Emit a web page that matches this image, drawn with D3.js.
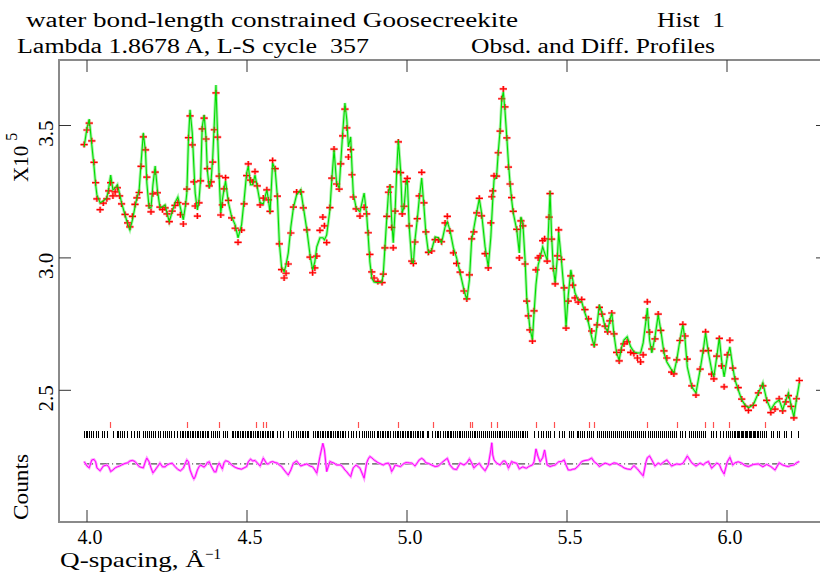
<!DOCTYPE html>
<html>
<head>
<meta charset="utf-8">
<script src="https://cdn.jsdelivr.net/npm/d3@7"></script>
<style>
  body { margin: 0; background: #fff; }
  svg { display: block; }
  text { font-family: "Liberation Serif", "DejaVu Serif", serif; fill: #000; white-space: pre; }
</style>
</head>
<body>
<svg id="chart"></svg>
<script>
// Q positions of the profile points (1/A)
const qPts = [
  3.991, 4.000, 4.007, 4.015, 4.022, 4.027, 4.031, 4.041, 4.051, 4.062,
  4.068, 4.074, 4.081, 4.088, 4.095, 4.102, 4.108, 4.119, 4.127, 4.134,
  4.142, 4.150, 4.156, 4.163, 4.169, 4.176, 4.183, 4.187, 4.194, 4.200,
  4.206, 4.213, 4.220, 4.228, 4.236, 4.244, 4.250, 4.257, 4.266, 4.275,
  4.284, 4.292, 4.301, 4.308, 4.312, 4.317, 4.322, 4.329, 4.334, 4.338,
  4.345, 4.350, 4.355, 4.360, 4.366, 4.372, 4.376, 4.382, 4.388, 4.393,
  4.398, 4.403, 4.408, 4.413, 4.418, 4.423, 4.428, 4.433, 4.442, 4.452,
  4.463, 4.472, 4.483, 4.491, 4.499, 4.504, 4.511, 4.518, 4.525, 4.532,
  4.541, 4.551, 4.562, 4.567, 4.572, 4.580, 4.588, 4.595, 4.601, 4.608,
  4.616, 4.622, 4.629, 4.637, 4.645, 4.655, 4.668, 4.676, 4.687, 4.697,
  4.705, 4.712, 4.718, 4.728, 4.737, 4.742, 4.749, 4.759, 4.765, 4.772,
  4.780, 4.788, 4.793, 4.799, 4.806, 4.812, 4.817, 4.824, 4.828, 4.832,
  4.841, 4.853, 4.866, 4.874, 4.879, 4.884, 4.890, 4.897, 4.909, 4.922,
  4.926, 4.931, 4.937, 4.942, 4.947, 4.952, 4.957, 4.963, 4.968, 4.973,
  4.980, 4.985, 4.991, 4.997, 5.001, 5.007, 5.015, 5.020, 5.025, 5.032,
  5.038, 5.046, 5.053, 5.059, 5.067, 5.077, 5.088, 5.098, 5.108, 5.119,
  5.126, 5.134, 5.145, 5.155, 5.166, 5.178, 5.187, 5.195, 5.202, 5.209,
  5.218, 5.226, 5.233, 5.244, 5.254, 5.262, 5.265, 5.268, 5.272, 5.280,
  5.285, 5.291, 5.296, 5.301, 5.306, 5.312, 5.317, 5.322, 5.327, 5.332,
  5.343, 5.351, 5.356, 5.362, 5.369, 5.374, 5.379, 5.384, 5.392, 5.397,
  5.403, 5.410, 5.416, 5.424, 5.430, 5.438, 5.444, 5.447, 5.452, 5.457,
  5.463, 5.470, 5.474, 5.483, 5.491, 5.497, 5.504, 5.512, 5.518, 5.525,
  5.535, 5.546, 5.556, 5.567, 5.577, 5.585, 5.594, 5.601, 5.609, 5.619,
  5.627, 5.634, 5.640, 5.647, 5.655, 5.663, 5.670, 5.678, 5.688, 5.699,
  5.709, 5.720, 5.730, 5.738, 5.747, 5.751, 5.758, 5.765, 5.775, 5.785,
  5.793, 5.803, 5.812, 5.827, 5.834, 5.843, 5.853, 5.862, 5.869, 5.876,
  5.890, 5.903, 5.916, 5.926, 5.933, 5.942, 5.952, 5.959, 5.968, 5.976,
  5.983, 5.991, 6.001, 6.009, 6.018, 6.025, 6.035, 6.046, 6.056, 6.067,
  6.082, 6.098, 6.112, 6.124, 6.137, 6.150, 6.163, 6.174, 6.184, 6.192,
  6.200, 6.209, 6.217, 6.226
];

// calculated profile, counts x 10^5
const calcPts = [
  3.419, 3.491, 3.524, 3.427, 3.344, 3.276, 3.238, 3.208, 3.215, 3.227,
  3.264, 3.313, 3.257, 3.264, 3.276, 3.242, 3.208, 3.162, 3.128, 3.106,
  3.144, 3.193, 3.227, 3.257, 3.359, 3.472, 3.397, 3.283, 3.189, 3.189,
  3.276, 3.347, 3.257, 3.189, 3.193, 3.200, 3.170, 3.137, 3.174, 3.208,
  3.230, 3.189, 3.144, 3.200, 3.245, 3.446, 3.559, 3.472, 3.344, 3.245,
  3.181, 3.219, 3.295, 3.495, 3.540, 3.453, 3.332, 3.264, 3.295, 3.381,
  3.514, 3.653, 3.464, 3.306, 3.170, 3.219, 3.257, 3.291, 3.208, 3.155,
  3.125, 3.076, 3.125, 3.219, 3.321, 3.347, 3.276, 3.276, 3.313, 3.268,
  3.208, 3.204, 3.257, 3.219, 3.170, 3.359, 3.332, 3.230, 3.057, 2.966,
  2.947, 2.974, 3.019, 3.117, 3.189, 3.238, 3.257, 3.193, 3.106, 3.011,
  2.955, 2.985, 3.042, 3.076, 3.076, 3.068, 3.087, 3.181, 3.295, 3.408,
  3.283, 3.264, 3.359, 3.472, 3.585, 3.521, 3.419, 3.457, 3.344, 3.245,
  3.189, 3.174, 3.245, 3.162, 3.076, 2.985, 2.924, 2.909, 2.906, 2.909,
  2.943, 3.038, 3.155, 3.245, 3.276, 3.144, 3.057, 3.181, 3.332, 3.446,
  3.332, 3.170, 3.193, 3.283, 3.295, 3.117, 2.985, 2.981, 3.068, 3.144,
  3.219, 3.302, 3.193, 3.094, 3.019, 3.030, 3.079, 3.076, 3.057, 3.117,
  3.136, 3.106, 3.038, 3.000, 2.943, 2.879, 2.841, 2.917, 3.068, 3.113,
  3.174, 3.223, 3.170, 3.042, 2.966, 3.079, 3.151, 3.219, 3.295, 3.306,
  3.397, 3.483, 3.597, 3.627, 3.559, 3.453, 3.359, 3.283, 3.219, 3.170,
  3.106, 3.019, 3.155, 3.132, 2.992, 2.853, 2.792, 2.736, 2.690, 2.792,
  2.898, 2.974, 3.000, 3.042, 3.019, 2.992, 3.162, 3.253, 3.079, 2.966,
  2.906, 3.004, 3.098, 2.985, 2.872, 2.739, 2.860, 2.955, 2.917, 2.868,
  2.841, 2.834, 2.792, 2.755, 2.702, 2.664, 2.747, 2.823, 2.792, 2.739,
  2.721, 2.766, 2.792, 2.709, 2.641, 2.615, 2.660, 2.690, 2.702, 2.664,
  2.645, 2.641, 2.641, 2.679, 2.766, 2.811, 2.690, 2.641, 2.702, 2.785,
  2.728, 2.641, 2.607, 2.577, 2.566, 2.615, 2.690, 2.747, 2.690, 2.588,
  2.513, 2.490, 2.577, 2.653, 2.717, 2.641, 2.577, 2.551, 2.626, 2.698,
  2.615, 2.551, 2.626, 2.664, 2.588, 2.539, 2.502, 2.464, 2.445, 2.434,
  2.445, 2.490, 2.528, 2.464, 2.426, 2.452, 2.464, 2.426, 2.464, 2.490,
  2.445, 2.400, 2.464, 2.528
];

// observed profile, counts x 10^5
const obsPts = [
  3.428, 3.483, 3.509, 3.442, 3.361, 3.284, 3.223, 3.182, 3.207, 3.223,
  3.253, 3.284, 3.234, 3.249, 3.265, 3.234, 3.204, 3.164, 3.132, 3.117,
  3.157, 3.202, 3.227, 3.247, 3.346, 3.457, 3.408, 3.305, 3.197, 3.174,
  3.242, 3.324, 3.246, 3.192, 3.182, 3.189, 3.166, 3.137, 3.177, 3.198,
  3.209, 3.163, 3.128, 3.204, 3.260, 3.454, 3.536, 3.427, 3.287, 3.196,
  3.158, 3.208, 3.291, 3.487, 3.528, 3.449, 3.337, 3.272, 3.287, 3.362,
  3.484, 3.623, 3.456, 3.309, 3.162, 3.200, 3.261, 3.303, 3.217, 3.151,
  3.112, 3.059, 3.105, 3.204, 3.311, 3.355, 3.294, 3.287, 3.326, 3.272,
  3.200, 3.226, 3.257, 3.219, 3.176, 3.368, 3.337, 3.233, 3.053, 2.956,
  2.924, 2.942, 2.977, 3.094, 3.192, 3.249, 3.249, 3.189, 3.106, 3.003,
  2.944, 2.962, 3.007, 3.104, 3.154, 3.121, 3.058, 3.190, 3.301, 3.411,
  3.279, 3.260, 3.355, 3.461, 3.562, 3.491, 3.381, 3.409, 3.314, 3.230,
  3.185, 3.158, 3.191, 3.166, 3.095, 3.013, 2.947, 2.924, 2.911, 2.907,
  2.939, 3.038, 3.157, 3.248, 3.268, 3.115, 3.038, 3.177, 3.326, 3.438,
  3.322, 3.166, 3.195, 3.288, 3.300, 3.121, 2.988, 2.979, 3.060, 3.148,
  3.234, 3.323, 3.208, 3.098, 3.021, 3.026, 3.069, 3.068, 3.061, 3.132,
  3.157, 3.102, 3.019, 2.979, 2.946, 2.875, 2.845, 2.936, 3.072, 3.098,
  3.170, 3.225, 3.159, 3.016, 2.962, 3.132, 3.231, 3.253, 3.310, 3.309,
  3.397, 3.479, 3.601, 3.638, 3.570, 3.453, 3.343, 3.279, 3.228, 3.176,
  3.108, 3.000, 3.140, 3.121, 2.977, 2.837, 2.781, 2.728, 2.686, 2.800,
  2.955, 3.000, 3.008, 3.065, 3.072, 2.988, 3.154, 3.243, 3.071, 2.960,
  2.902, 3.008, 3.106, 2.994, 2.887, 2.735, 2.837, 2.932, 2.897, 2.849,
  2.833, 2.843, 2.805, 2.770, 2.724, 2.672, 2.747, 2.813, 2.788, 2.742,
  2.721, 2.762, 2.792, 2.713, 2.643, 2.611, 2.652, 2.675, 2.683, 2.643,
  2.639, 2.622, 2.607, 2.634, 2.774, 2.834, 2.720, 2.656, 2.694, 2.788,
  2.726, 2.649, 2.622, 2.569, 2.562, 2.615, 2.688, 2.749, 2.705, 2.618,
  2.517, 2.482, 2.580, 2.649, 2.721, 2.650, 2.561, 2.543, 2.629, 2.696,
  2.592, 2.513, 2.634, 2.689, 2.584, 2.543, 2.510, 2.467, 2.439, 2.424,
  2.443, 2.490, 2.517, 2.462, 2.416, 2.429, 2.468, 2.422, 2.456, 2.480,
  2.439, 2.396, 2.468, 2.537
];

// reflection positions, second phase (red) and main phase (black)
const reflRed = [
  4.072, 4.313, 4.413, 4.527, 4.549, 4.559, 4.848, 4.971, 5.080, 5.197,
  5.204, 5.263, 5.281, 5.402, 5.458, 5.568, 5.583, 5.750, 5.845, 5.932,
  5.955, 6.005, 6.119
];
const reflBlack = [
  3.991, 3.996, 4.001, 4.006, 4.012, 4.020, 4.027, 4.035, 4.046, 4.053,
  4.061, 4.082, 4.093, 4.098, 4.103, 4.110, 4.117, 4.124, 4.139, 4.147,
  4.155, 4.163, 4.176, 4.181, 4.186, 4.194, 4.200, 4.207, 4.214, 4.221,
  4.228, 4.236, 4.244, 4.251, 4.257, 4.264, 4.272, 4.282, 4.291, 4.296,
  4.301, 4.306, 4.311, 4.317, 4.322, 4.327, 4.332, 4.337, 4.343, 4.348,
  4.353, 4.358, 4.363, 4.369, 4.374, 4.379, 4.386, 4.395, 4.400, 4.407,
  4.413, 4.426, 4.431, 4.436, 4.452, 4.457, 4.462, 4.468, 4.473, 4.478,
  4.483, 4.488, 4.494, 4.499, 4.504, 4.509, 4.514, 4.520, 4.525, 4.530,
  4.535, 4.541, 4.546, 4.551, 4.556, 4.561, 4.567, 4.572, 4.577, 4.582,
  4.593, 4.603, 4.613, 4.629, 4.636, 4.645, 4.653, 4.660, 4.666, 4.671,
  4.676, 4.681, 4.686, 4.692, 4.707, 4.712, 4.718, 4.723, 4.728, 4.733,
  4.738, 4.744, 4.749, 4.754, 4.759, 4.764, 4.770, 4.775, 4.780, 4.785,
  4.790, 4.796, 4.801, 4.806, 4.817, 4.824, 4.832, 4.841, 4.851, 4.858,
  4.866, 4.872, 4.879, 4.884, 4.892, 4.898, 4.905, 4.910, 4.916, 4.921,
  4.926, 4.931, 4.936, 4.942, 4.947, 4.957, 4.962, 4.968, 4.973, 4.978,
  4.983, 4.988, 4.994, 4.999, 5.004, 5.009, 5.014, 5.020, 5.025, 5.030,
  5.035, 5.041, 5.046, 5.051, 5.061, 5.067, 5.077, 5.087, 5.093, 5.098,
  5.103, 5.113, 5.119, 5.124, 5.129, 5.134, 5.139, 5.145, 5.150, 5.156,
  5.161, 5.166, 5.172, 5.178, 5.184, 5.190, 5.196, 5.202, 5.208, 5.214,
  5.220, 5.226, 5.232, 5.238, 5.244, 5.250, 5.256, 5.262, 5.268, 5.274,
  5.280, 5.286, 5.292, 5.298, 5.304, 5.310, 5.316, 5.322, 5.328, 5.334,
  5.340, 5.346, 5.352, 5.358, 5.364, 5.370, 5.376, 5.397, 5.410, 5.418,
  5.426, 5.434, 5.442, 5.447, 5.459, 5.475, 5.483, 5.491, 5.506, 5.511,
  5.518, 5.530, 5.535, 5.541, 5.548, 5.554, 5.561, 5.569, 5.575, 5.582,
  5.593, 5.599, 5.605, 5.611, 5.618, 5.624, 5.630, 5.636, 5.643, 5.649,
  5.655, 5.661, 5.668, 5.674, 5.680, 5.686, 5.693, 5.699, 5.705, 5.711,
  5.718, 5.724, 5.730, 5.736, 5.743, 5.754, 5.759, 5.766, 5.772, 5.778,
  5.784, 5.791, 5.797, 5.803, 5.809, 5.816, 5.822, 5.828, 5.834, 5.841,
  5.853, 5.859, 5.868, 5.882, 5.888, 5.895, 5.901, 5.907, 5.913, 5.920,
  5.926, 5.932, 5.949, 5.957, 5.966, 5.978, 5.986, 5.997, 6.003, 6.009,
  6.016, 6.022, 6.026, 6.030, 6.034, 6.038, 6.043, 6.047, 6.051, 6.055,
  6.059, 6.063, 6.068, 6.072, 6.076, 6.080, 6.084, 6.088, 6.093, 6.097,
  6.103, 6.109, 6.116, 6.122, 6.136, 6.143, 6.157, 6.163, 6.178, 6.184,
  6.199, 6.223
];

const xTicks = [4.0, 4.5, 5.0, 5.5, 6.0];
const yTicks = [2.5, 3.0, 3.5];
const diffBase = 2.222; // level where obs - calc = 0 is drawn

const width = 820, height = 573;
const frame = { left: 59, top: 60, right: 828, bottom: 522 };

const svg = d3.select("#chart")
    .attr("width", width)
    .attr("height", height);

svg.append("rect").attr("width", width).attr("height", height).attr("fill", "#fff");

const x = d3.scaleLinear().domain([4, 6]).range([87, 727]);
const y = d3.scaleLinear().domain([2.5, 3.5]).range([390.3, 125.5]);

const pts = qPts.map((q, i) => ({ q: q, c: calcPts[i], o: obsPts[i] }));

svg.append("clipPath").attr("id", "plotClip")
    .append("rect")
    .attr("x", frame.left).attr("y", frame.top)
    .attr("width", frame.right - frame.left).attr("height", frame.bottom - frame.top);

const plot = svg.append("g").attr("clip-path", "url(#plotClip)");

const calcLine = d3.line().x(d => x(d.q)).y(d => y(d.c));
const diffLine = d3.line().x(d => x(d.q)).y(d => y(diffBase + d.o - d.c));

// soft halo under the calculated curve
plot.append("path")
    .datum(pts)
    .attr("d", calcLine)
    .attr("fill", "none")
    .attr("stroke", "#a6f3a6")
    .attr("stroke-width", 3);

// observed points as + marks
const plus = "M-3.6,0H3.6M0,-3V3";
plot.append("g")
    .selectAll("path")
    .data(pts)
    .enter().append("path")
    .attr("transform", d => `translate(${x(d.q)},${y(d.o)})`)
    .attr("d", plus)
    .attr("fill", "none")
    .attr("stroke", "#ff9a9a")
    .attr("stroke-width", 2.6);

plot.append("g")
    .selectAll("path")
    .data(pts)
    .enter().append("path")
    .attr("transform", d => `translate(${x(d.q)},${y(d.o)})`)
    .attr("d", plus)
    .attr("fill", "none")
    .attr("stroke", "#ff0000")
    .attr("stroke-width", 1.2);

plot.append("path")
    .datum(pts)
    .attr("d", calcLine)
    .attr("fill", "none")
    .attr("stroke", "#00dd00")
    .attr("stroke-width", 1.1);

// reflection markers
plot.append("g")
    .selectAll("line")
    .data(reflRed)
    .enter().append("line")
    .attr("x1", d => Math.round(x(d)) + 0.5).attr("x2", d => Math.round(x(d)) + 0.5)
    .attr("y1", 422).attr("y2", 428)
    .attr("stroke", "#ff5050")
    .attr("stroke-width", 1.2);

plot.append("g")
    .selectAll("line")
    .data(reflBlack)
    .enter().append("line")
    .attr("x1", d => Math.round(x(d)) + 0.5).attr("x2", d => Math.round(x(d)) + 0.5)
    .attr("y1", 431).attr("y2", 438)
    .attr("stroke", "#000")
    .attr("stroke-width", 1)
    .attr("shape-rendering", "crispEdges");

// difference curve and its zero line
plot.append("line")
    .attr("x1", x(qPts[0])).attr("x2", x(qPts[qPts.length - 1]))
    .attr("y1", y(diffBase)).attr("y2", y(diffBase))
    .attr("stroke", "#222")
    .attr("stroke-width", 1)
    .attr("stroke-dasharray", "9,3,1,3");

plot.append("path")
    .datum(pts)
    .attr("d", diffLine)
    .attr("fill", "none")
    .attr("stroke", "#ff9cff")
    .attr("stroke-width", 2.6);

plot.append("path")
    .datum(pts)
    .attr("d", diffLine)
    .attr("fill", "none")
    .attr("stroke", "#ff00ff")
    .attr("stroke-width", 1);

// frame
const axisColor = "#8a8a8a";
svg.append("rect")
    .attr("x", frame.left).attr("y", frame.top)
    .attr("width", frame.right - frame.left).attr("height", frame.bottom - frame.top)
    .attr("fill", "none")
    .attr("stroke", axisColor)
    .attr("stroke-width", 2);

// x ticks, bottom and top
xTicks.forEach(t => {
    svg.append("line")
        .attr("x1", x(t)).attr("x2", x(t))
        .attr("y1", frame.bottom).attr("y2", frame.bottom - 12)
        .attr("stroke", "#333");
    svg.append("line")
        .attr("x1", x(t)).attr("x2", x(t))
        .attr("y1", frame.top).attr("y2", frame.top + 12)
        .attr("stroke", "#333");
    svg.append("text")
        .attr("x", x(t) + 3)
        .attr("y", 544)
        .attr("text-anchor", "middle")
        .attr("font-size", 20)
        .text(d3.format(".1f")(t));
});

// y ticks, left and right; labels rotated as in the original plot
yTicks.forEach(t => {
    svg.append("line")
        .attr("x1", frame.left).attr("x2", frame.left + 12)
        .attr("y1", y(t)).attr("y2", y(t))
        .attr("stroke", "#333");
    svg.append("line")
        .attr("x1", frame.right - 12).attr("x2", frame.right)
        .attr("y1", y(t)).attr("y2", y(t))
        .attr("stroke", "#333");
    svg.append("text")
        .attr("transform", `translate(53,${y(t) + 8}) rotate(-90)`)
        .attr("text-anchor", "middle")
        .attr("font-size", 21)
        .text(d3.format(".1f")(t));
});

const yLab = svg.append("text")
    .attr("transform", "translate(28,182) rotate(-90)")
    .attr("font-size", 21);
yLab.append("tspan").text("X10");
yLab.append("tspan").attr("dx", 5).attr("dy", -11).attr("font-size", 16).text("5");

svg.append("text")
    .attr("transform", "translate(28,520) rotate(-90)")
    .attr("font-size", 21)
    .attr("textLength", 66)
    .attr("lengthAdjust", "spacingAndGlyphs")
    .text("Counts");

const xLab = svg.append("text")
    .attr("x", 60).attr("y", 567)
    .attr("font-size", 21);
xLab.append("tspan").attr("textLength", 145).attr("lengthAdjust", "spacingAndGlyphs").text("Q-spacing, Å");
xLab.append("tspan").attr("dy", -8).attr("font-size", 15).text("−1");

// header lines
const header = [
    { s: "water bond-length constrained Goosecreekite", x: 26, y: 27, w: 492 },
    { s: "Hist  1", x: 657, y: 27, w: 68 },
    { s: "Lambda 1.8678 A, L-S cycle  357", x: 17, y: 53, w: 352 },
    { s: "Obsd. and Diff. Profiles", x: 471, y: 53, w: 244 }
];
svg.append("g")
    .selectAll("text")
    .data(header)
    .enter().append("text")
    .attr("x", d => d.x)
    .attr("y", d => d.y)
    .attr("font-size", 20)
    .attr("textLength", d => d.w)
    .attr("lengthAdjust", "spacingAndGlyphs")
    .text(d => d.s);
</script>
</body>
</html>
